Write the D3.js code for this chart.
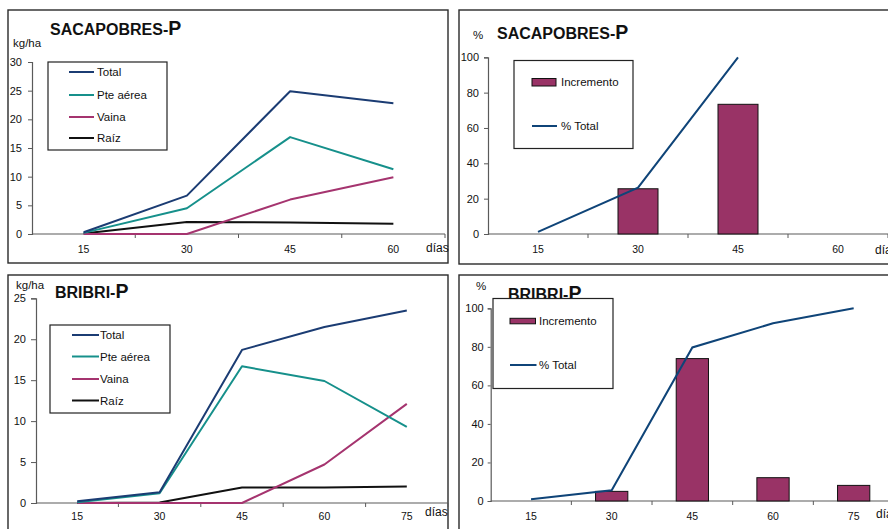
<!DOCTYPE html>
<html>
<head>
<meta charset="utf-8">
<script src="https://cdn.jsdelivr.net/npm/d3@7"></script>
<style>
  body { margin: 0; background: #fff; }
  svg { display: block; font-family: "Liberation Sans", Arial, sans-serif; }
</style>
</head>
<body>
<svg id="chart" width="888" height="529"></svg>
<script>
// Sampling days
const diasSac = ["15", "30", "45", "60"];
const diasBri = ["15", "30", "45", "60", "75"];

// SACAPOBRES — phosphorus accumulation (kg/ha)
const sacTotal = [0.3, 6.7, 24.9, 22.8];
const sacAerea = [0.2, 4.5, 16.9, 11.3];
const sacVaina = [0, 0, 6.0, 9.9];
const sacRaiz = [0.1, 2.1, 2.0, 1.8];
// SACAPOBRES — increment and cumulative % of total
const sacIncremento = [null, 25.6, 73.4, null];
const sacPctTotal = [1.2, 26.2, 100, null];

// BRIBRI — phosphorus accumulation (kg/ha)
const briTotal = [0.2, 1.3, 18.7, 21.5, 23.5];
const briAerea = [0.1, 1.2, 16.7, 14.9, 9.3];
const briVaina = [0, 0, 0, 4.7, 12.1];
const briRaiz = [0, 0.05, 1.9, 1.9, 2.0];
// BRIBRI — increment and cumulative % of total
const briIncremento = [null, 5.0, 73.9, 12.1, 8.1];
const briPctTotal = [0.9, 5.6, 79.7, 92.2, 100];

// Tick values
const ticksSac = [0, 5, 10, 15, 20, 25, 30];
const ticksBri = [0, 5, 10, 15, 20, 25];
const ticksPct = [0, 20, 40, 60, 80, 100];

const seriesNames = ["Total", "Pte aérea", "Vaina", "Raíz"];
const seriesColors = ["#1b3c73", "#16908b", "#a5346f", "#111111"];
const barColor = "#993366";
const pctColor = "#0f4478";
const axisColor = "#5a5a5a";

const svg = d3.select("#chart");

function frame(x, y, w, h) {
  svg.append("rect")
    .attr("x", x).attr("y", y).attr("width", w).attr("height", h)
    .attr("fill", "none").attr("stroke", "#2a2a2a").attr("stroke-width", 1.4);
}

function title(g, x, y, name) {
  const t = g.append("text").attr("x", x).attr("y", y)
    .attr("font-weight", "bold").attr("fill", "#111");
  t.append("tspan").attr("font-size", 16).text(name + "-");
  t.append("tspan").attr("font-size", 19.5).text("P");
}

function axes(p) {
  const g = svg.append("g");
  // y axis
  const yAxis = d3.axisLeft(p.y).tickValues(p.yTicks).tickSize(p.yTickLen)
    .tickPadding(p.yPad).tickFormat(d3.format("d"));
  const ya = g.append("g").attr("transform", `translate(${p.x0},0)`).call(yAxis);
  ya.select(".domain").attr("stroke", axisColor).attr("stroke-width", 1.2);
  ya.selectAll(".tick line").attr("stroke", axisColor);
  ya.selectAll(".tick text").attr("font-size", 11).attr("fill", "#111")
    .attr("font-family", "Liberation Sans, Arial, sans-serif");

  // x axis: labels at band centres, tick marks on band boundaries
  const xAxis = d3.axisBottom(p.x).tickSize(0).tickPadding(p.xPad);
  const xa = g.append("g").attr("transform", `translate(0,${p.y(0)})`).call(xAxis);
  xa.select(".domain").remove();
  xa.selectAll(".tick text").attr("font-size", 10.5).attr("fill", "#111")
    .attr("font-family", "Liberation Sans, Arial, sans-serif");
  const r = p.x.range();
  g.append("line").attr("x1", r[0]).attr("x2", r[1])
    .attr("y1", p.y(0)).attr("y2", p.y(0))
    .attr("stroke", axisColor).attr("stroke-width", 1.2);
  const bounds = p.x.domain().map(d => p.x(d)).slice(1).concat([r[1]]);
  g.selectAll(null).data(bounds).join("line")
    .attr("x1", d => d).attr("x2", d => d)
    .attr("y1", p.y(0)).attr("y2", p.y(0) + 4)
    .attr("stroke", axisColor).attr("stroke-width", 1);

  g.append("text").attr("x", p.diasX).attr("y", p.diasY)
    .attr("font-size", 12).attr("fill", "#111").text("días");
  g.append("text").attr("x", p.unitX).attr("y", p.unitY)
    .attr("font-size", 11.5).attr("fill", "#111").text(p.unit);
  return g;
}

function linePanel(p) {
  const g = axes(p);
  title(g, p.titleX, p.titleY, p.name);
  const cx = d => p.x(d) + p.x.bandwidth() / 2;
  const line = d3.line().x(d => cx(d.dia)).y(d => p.y(d.v));
  const series = p.series.slice().reverse();
  const colors = seriesColors.slice().reverse();
  series.forEach((vals, i) => {
    const pts = p.x.domain().map((dia, j) => ({ dia, v: vals[j] }));
    g.append("path").datum(pts).attr("d", line)
      .attr("fill", "none").attr("stroke", colors[i]).attr("stroke-width", 2)
      .attr("stroke-linejoin", "round");
  });
  // legend
  const L = p.legend;
  g.append("rect").attr("x", L.x).attr("y", L.y).attr("width", L.w).attr("height", L.h)
    .attr("fill", "#fff").attr("stroke", "#222").attr("stroke-width", 1.2);
  seriesNames.forEach((name, i) => {
    const yy = L.rows[i];
    g.append("line").attr("x1", L.lx1).attr("x2", L.lx2).attr("y1", yy).attr("y2", yy)
      .attr("stroke", seriesColors[i]).attr("stroke-width", 2);
    g.append("text").attr("x", L.tx).attr("y", yy + 4).attr("font-size", 11.5)
      .attr("fill", "#111").text(name);
  });
}

function barPanel(p) {
  const g = axes(p);
  title(g, p.titleX, p.titleY, p.name);
  const bars = d3.scaleBand().domain(p.x.domain()).range(p.x.range())
    .paddingInner(0.6).paddingOuter(0.3);
  const inc = p.x.domain().map((dia, j) => ({ dia, v: p.inc[j] })).filter(d => d.v != null);
  g.selectAll(null).data(inc).join("rect")
    .attr("x", d => bars(d.dia)).attr("width", bars.bandwidth())
    .attr("y", d => p.y(d.v)).attr("height", d => p.y(0) - p.y(d.v))
    .attr("fill", barColor).attr("stroke", "#111").attr("stroke-width", 1);
  const cx = d => p.x(d) + p.x.bandwidth() / 2;
  const pts = p.x.domain().map((dia, j) => ({ dia, v: p.pct[j] })).filter(d => d.v != null);
  g.append("path").datum(pts)
    .attr("d", d3.line().x(d => cx(d.dia)).y(d => p.y(d.v)))
    .attr("fill", "none").attr("stroke", pctColor).attr("stroke-width", 2);
  // legend
  const L = p.legend;
  g.append("rect").attr("x", L.x).attr("y", L.y).attr("width", L.w).attr("height", L.h)
    .attr("fill", "#fff").attr("stroke", "#222").attr("stroke-width", 1.2);
  g.append("rect").attr("x", L.sx).attr("y", L.sy).attr("width", L.sw).attr("height", L.sh)
    .attr("fill", barColor).attr("stroke", "#111").attr("stroke-width", 1);
  g.append("text").attr("x", L.tx).attr("y", L.sy + L.sh / 2 + 4).attr("font-size", 11.5)
    .attr("fill", "#111").text("Incremento");
  g.append("line").attr("x1", L.sx).attr("x2", L.sx + L.sw + 1).attr("y1", L.ly).attr("y2", L.ly)
    .attr("stroke", pctColor).attr("stroke-width", 2);
  g.append("text").attr("x", L.tx).attr("y", L.ly + 4).attr("font-size", 11.5)
    .attr("fill", "#111").text("% Total");
}

// Panel frames
frame(8, 10, 440, 253);
frame(459, 10, 450, 254);
frame(8, 275, 440, 270);
frame(459, 275, 450, 270);

// Top-left: SACAPOBRES kg/ha
linePanel({
  name: "SACAPOBRES", titleX: 50, titleY: 35,
  x: d3.scaleBand().domain(diasSac).range([32, 445]),
  y: d3.scaleLinear().domain([0, 30]).range([234, 62]),
  x0: 32, yTicks: ticksSac, yTickLen: 4, yPad: 6, xPad: 12,
  unit: "kg/ha", unitX: 13, unitY: 47, diasX: 426, diasY: 252,
  series: [sacTotal, sacAerea, sacVaina, sacRaiz],
  legend: { x: 48, y: 62, w: 119, h: 88, lx1: 69, lx2: 94, tx: 97, rows: [72, 95, 117, 138] }
});

// Top-right: SACAPOBRES %
barPanel({
  name: "SACAPOBRES", titleX: 497, titleY: 39,
  x: d3.scaleBand().domain(diasSac).range([488, 888]),
  y: d3.scaleLinear().domain([0, 100]).range([234, 57.3]),
  x0: 488, yTicks: ticksPct, yTickLen: 4, yPad: 5, xPad: 12,
  unit: "%", unitX: 473, unitY: 39, diasX: 875, diasY: 254,
  inc: sacIncremento, pct: sacPctTotal,
  legend: { x: 514, y: 60.5, w: 119, h: 88, sx: 532, sy: 78.5, sw: 24, sh: 7.5, tx: 561, ly: 126 }
});

// Bottom-left: BRIBRI kg/ha
linePanel({
  name: "BRIBRI", titleX: 55, titleY: 298,
  x: d3.scaleBand().domain(diasBri).range([36, 448]),
  y: d3.scaleLinear().domain([0, 25]).range([503, 298.3]),
  x0: 36, yTicks: ticksBri, yTickLen: 5, yPad: 5, xPad: 10,
  unit: "kg/ha", unitX: 16, unitY: 289, diasX: 425, diasY: 516,
  series: [briTotal, briAerea, briVaina, briRaiz],
  legend: { x: 50, y: 325, w: 120, h: 88, lx1: 72, lx2: 99, tx: 100, rows: [335, 356.5, 379, 400.5] }
});

// Bottom-right: BRIBRI %
barPanel({
  name: "BRIBRI", titleX: 508, titleY: 300,
  x: d3.scaleBand().domain(diasBri).range([490.7, 894]),
  y: d3.scaleLinear().domain([0, 100]).range([501, 308.3]),
  x0: 490.7, yTicks: ticksPct, yTickLen: 3, yPad: 4, xPad: 12,
  unit: "%", unitX: 476, unitY: 290, diasX: 876, diasY: 518,
  inc: briIncremento, pct: briPctTotal,
  legend: { x: 493, y: 298.5, w: 120, h: 90, sx: 510, sy: 318.3, sw: 25.5, sh: 5.5, tx: 539, ly: 365 }
});
</script>
</body>
</html>
